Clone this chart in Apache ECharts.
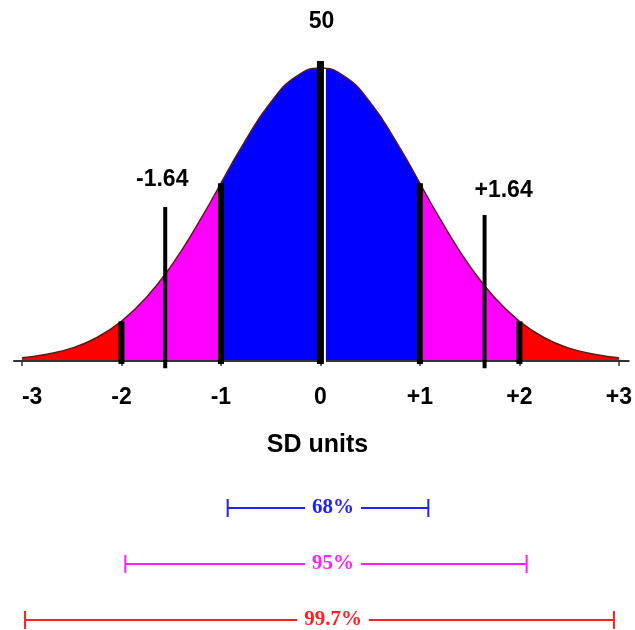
<!DOCTYPE html>
<html>
<head>
<meta charset="utf-8">
<script src="https://cdn.jsdelivr.net/npm/echarts@6/dist/echarts.min.js"></script>
<style>
  html, body { margin: 0; padding: 0; background: #fff; }
  #chart { width: 635px; height: 630px; }
</style>
</head>
<body>
<div id="chart"></div>
<script>
  // curve (SD units -> height)
  var zValues = [-3, -2.75, -2.5, -2.25, -2, -1.75, -1.5, -1.25, -1, -0.75, -0.5, -0.25, 0,
                 0.25, 0.5, 0.75, 1, 1.25, 1.5, 1.75, 2, 2.25, 2.5, 2.75, 3];
  var density = [0.0044, 0.0091, 0.0175, 0.0317, 0.054, 0.0863, 0.1295, 0.1826, 0.242, 0.3011, 0.3521, 0.3867, 0.3989,
                 0.3867, 0.3521, 0.3011, 0.242, 0.1826, 0.1295, 0.0863, 0.054, 0.0317, 0.0175, 0.0091, 0.0044];

  var tickValues = [-3, -2, -1, 0, 1, 2, 3];
  var tickLabels = ['-3', '-2', '-1', '0', '+1', '+2', '+3'];

  // vertical marker lines (the 1.64 lines sit where the picture draws them)
  var guideX = [-2, -1, 0, 1, 2, -1.56, 1.65];
  var guideBottom = [-0.004, -0.004, -0.004, -0.004, -0.004, -0.01, -0.01];
  var guideTop = [0.054, 0.242, 0.4085, 0.242, 0.054, 0.2097, 0.1988];
  var guideLabels = ['', '', '50', '', '', '-1.64', '+1.64'];

  // percentage ranges under the axis
  var bandLow = [-0.95, -1.97, -2.97];
  var bandHigh = [1.05, 2.03, 2.9];
  var bandLabels = ['68%', '95%', '99.7%'];

  var chart = echarts.init(document.getElementById('chart'));

  function segment(from, to) {
    var pts = [];
    for (var i = 0; i < zValues.length; i++) {
      if (zValues[i] >= from && zValues[i] <= to) pts.push([zValues[i], density[i]]);
    }
    return pts;
  }

  function area(from, to, color) {
    return {
      type: 'line',
      data: segment(from, to),
      smooth: true,
      symbol: 'none',
      lineStyle: { color: '#5a1a1a', width: 1.5 },
      areaStyle: { color: color, opacity: 1 },
      z: 2
    };
  }

  var guideWidth = [6, 6, 7, 6, 6, 4, 4];
  var labelOffset = { '50': [1, -39], '-1.64': [-3, -27], '+1.64': [19, -24] };
  var bandColors = ['#1f1fff', '#ff1fff', '#ff1f1f'];
  var axisFont = 'bold 23px "Liberation Sans", Arial, sans-serif';

  chart.setOption({
    animation: false,
    grid: [
      { left: 14, right: 1, top: 30.5, bottom: 269 },
      { left: 14, right: 1, top: 480, bottom: 0 }
    ],
    xAxis: [{
      type: 'value',
      min: -3.08,
      max: 3.1,
      z: 5,
      splitLine: { show: false },
      axisLine: { lineStyle: { color: '#333', width: 2 } },
      axisTick: { show: true, length: 5, customValues: tickValues, lineStyle: { color: '#333', width: 1.5 } },
      axisLabel: {
        customValues: tickValues,
        margin: 25,
        color: '#000',
        fontSize: 23,
        fontWeight: 'bold',
        fontFamily: '"Liberation Sans", Arial, sans-serif',
        alignMinLabel: 'left',
        formatter: function (v) {
          var i = tickValues.indexOf(v);
          return i >= 0 ? tickLabels[i] : '';
        }
      },
      name: 'SD units',
      nameLocation: 'middle',
      nameGap: 72,
      nameTextStyle: {
        color: '#000',
        fontSize: 25,
        fontWeight: 'bold',
        fontFamily: '"Liberation Sans", Arial, sans-serif',
        padding: [0, 0, 0, -8]
      }
    }, {
      type: 'value', gridIndex: 1, min: -3.08, max: 3.1, show: false
    }],
    yAxis: [{
      type: 'value', min: 0, max: 0.45, show: false
    }, {
      type: 'value', gridIndex: 1, min: -0.5, max: 2.18, inverse: true, show: false
    }],
    series: [
      area(-3, -2, '#ff0000'),
      area(-2, -1, '#ff00ff'),
      area(-1, 1, '#0000ff'),
      area(1, 2, '#ff00ff'),
      area(2, 3, '#ff0000'),
      {
        type: 'custom',
        z: 10,
        data: guideX.map(function (x, i) { return [x, guideBottom[i], guideTop[i], i]; }),
        encode: { x: 0, y: [1, 2] },
        renderItem: function (params, api) {
          var i = api.value(3);
          var p0 = api.coord([api.value(0), api.value(1)]);
          var p1 = api.coord([api.value(0), api.value(2)]);
          var children = [{
            type: 'line',
            shape: { x1: p0[0], y1: p0[1], x2: p1[0], y2: p1[1] },
            style: { stroke: '#000', lineWidth: guideWidth[i] }
          }];
          if (i === 2) {
            // thin white gap beside the centre line
            children.push({
              type: 'line',
              shape: { x1: p0[0] + 4.5, y1: p0[1] + 2, x2: p1[0] + 4.5, y2: p1[1] + 8 },
              style: { stroke: '#fff', lineWidth: 2 }
            });
          }
          var txt = guideLabels[i];
          if (txt) {
            var off = labelOffset[txt];
            children.push({
              type: 'text',
              x: p1[0] + off[0],
              y: p1[1] + off[1],
              style: { text: txt, font: axisFont, fill: '#000', align: 'center', verticalAlign: 'middle' }
            });
          }
          return { type: 'group', children: children };
        }
      },
      {
        type: 'custom',
        xAxisIndex: 1,
        yAxisIndex: 1,
        data: bandLow.map(function (lo, i) { return [lo, bandHigh[i], i, i]; }),
        encode: { x: [0, 1], y: 2 },
        renderItem: function (params, api) {
          var i = api.value(3);
          var a = api.coord([api.value(0), api.value(2)]);
          var b = api.coord([api.value(1), api.value(2)]);
          var mid = api.coord([0.1, api.value(2)]);
          var c = bandColors[i];
          return {
            type: 'group',
            children: [
              { type: 'line', shape: { x1: a[0], y1: a[1], x2: b[0], y2: b[1] }, style: { stroke: c, lineWidth: 2 } },
              { type: 'line', shape: { x1: a[0], y1: a[1] - 9, x2: a[0], y2: a[1] + 9 }, style: { stroke: c, lineWidth: 2 } },
              { type: 'line', shape: { x1: b[0], y1: b[1] - 9, x2: b[0], y2: b[1] + 9 }, style: { stroke: c, lineWidth: 2 } },
              {
                type: 'text', x: mid[0], y: mid[1],
                style: {
                  text: bandLabels[i], fill: c, align: 'center', verticalAlign: 'middle',
                  font: 'bold 21px "Liberation Serif", "Times New Roman", serif',
                  backgroundColor: '#fff', padding: [0, 7]
                }
              }
            ]
          };
        }
      }
    ]
  });
</script>
</body>
</html>
